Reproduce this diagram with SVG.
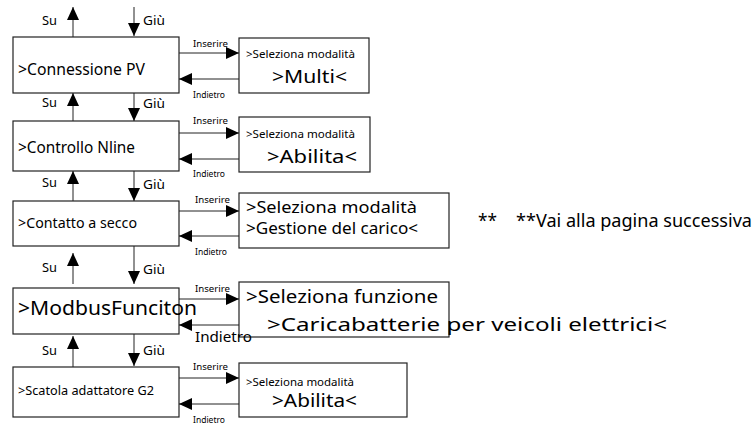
<svg xmlns="http://www.w3.org/2000/svg" width="753" height="424" viewBox="0 0 753 424">
  <defs>
    <marker id="head" viewBox="0 0 13 12" refX="13" refY="6" markerWidth="13" markerHeight="12" markerUnits="userSpaceOnUse" orient="auto">
      <path d="M0,0 L13,6 L0,12 z" fill="#000"/>
    </marker>
    <style>
      .box { fill: #fff; stroke: #222; stroke-width: 1.2; }
      .t { font-family: "Noto Sans", "Open Sans", sans-serif; fill: #000; }
      .lbl { font-family: "Noto Sans", "Open Sans", sans-serif; fill: #000; font-size: 8px; }
      .nav { font-family: "Noto Sans", "Open Sans", sans-serif; fill: #000; font-size: 12.5px; }
      .conn line { stroke: #222; stroke-width: 1; marker-end: url(#head); }
    </style>
  </defs>
  <rect width="753" height="424" fill="#fff"/>

  <!-- menu entries -->
  <g id="pv"><rect class="box" x="13" y="37" width="166" height="56"/><text class="t" x="18" y="75" font-size="15.5" textLength="127" lengthAdjust="spacingAndGlyphs">&gt;Connessione PV</text></g>
  <g id="nline"><rect class="box" x="13" y="121" width="166" height="50"/><text class="t" x="18" y="153" font-size="15.5" textLength="117" lengthAdjust="spacingAndGlyphs">&gt;Controllo Nline</text></g>
  <g id="secco"><rect class="box" x="13" y="201" width="166" height="45"/><text class="t" x="18" y="228" font-size="14.4" textLength="119" lengthAdjust="spacingAndGlyphs">&gt;Contatto a secco</text></g>
  <g id="modbus"><rect class="box" x="13" y="288" width="166" height="46"/><text class="t" x="18" y="315" font-size="19.5" textLength="179" lengthAdjust="spacingAndGlyphs">&gt;ModbusFunciton</text></g>
  <g id="g2"><rect class="box" x="13" y="367" width="166" height="50"/><text class="t" x="18" y="395" font-size="12" textLength="136" lengthAdjust="spacingAndGlyphs">&gt;Scatola adattatore G2</text></g>

  <!-- sub pages -->
  <g id="pv-mode"><rect class="box" x="239" y="38" width="130" height="55"/>
    <text class="t" x="246" y="58" font-size="10.5" textLength="109" lengthAdjust="spacingAndGlyphs">&gt;Seleziona modalità</text>
    <text class="t" x="272" y="83" font-size="17.5" textLength="75" lengthAdjust="spacingAndGlyphs">&gt;Multi&lt;</text></g>
  <g id="nline-mode"><rect class="box" x="239" y="117" width="131" height="55"/>
    <text class="t" x="246" y="138" font-size="10.5" textLength="109" lengthAdjust="spacingAndGlyphs">&gt;Seleziona modalità</text>
    <text class="t" x="267" y="163" font-size="18" textLength="90" lengthAdjust="spacingAndGlyphs">&gt;Abilita&lt;</text></g>
  <g id="secco-mode"><rect class="box" x="239" y="193" width="210" height="55"/>
    <text class="t" x="246" y="213" font-size="16.5" textLength="171" lengthAdjust="spacingAndGlyphs">&gt;Seleziona modalità</text>
    <text class="t" x="246" y="234" font-size="16" textLength="172" lengthAdjust="spacingAndGlyphs">&gt;Gestione del carico&lt;</text></g>
  <g id="modbus-func"><rect class="box" x="239" y="282" width="210" height="55"/>
    <text class="t" x="246" y="303" font-size="18.5" textLength="192" lengthAdjust="spacingAndGlyphs">&gt;Seleziona funzione</text>
    <text class="t" x="267" y="331" font-size="18.5" textLength="400" lengthAdjust="spacingAndGlyphs">&gt;Caricabatterie per veicoli elettrici&lt;</text></g>
  <g id="g2-mode"><rect class="box" x="239" y="363" width="168" height="54"/>
    <text class="t" x="246" y="386" font-size="10.5" textLength="108" lengthAdjust="spacingAndGlyphs">&gt;Seleziona modalità</text>
    <text class="t" x="272" y="407" font-size="18" textLength="85" lengthAdjust="spacingAndGlyphs">&gt;Abilita&lt;</text></g>

  <g id="note">
    <text class="t" x="478" y="227" font-size="17.5" textLength="19" lengthAdjust="spacingAndGlyphs">**</text>
    <text class="t" x="516" y="227" font-size="17.5" textLength="236" lengthAdjust="spacingAndGlyphs">**Vai alla pagina successiva</text></g>

  <!-- connectors -->
  <g class="conn">
    <line x1="73" y1="37" x2="73" y2="7"/>
    <line x1="134" y1="7" x2="134" y2="36"/>
    <line x1="73" y1="121" x2="73" y2="93"/>
    <line x1="134" y1="93" x2="134" y2="121"/>
    <line x1="73" y1="201" x2="73" y2="171"/>
    <line x1="134" y1="171" x2="134" y2="201"/>
    <line x1="73" y1="284" x2="73" y2="253"/>
    <line x1="134" y1="246" x2="134" y2="284"/>
    <line x1="73" y1="367" x2="73" y2="336"/>
    <line x1="134" y1="334" x2="134" y2="366"/>

    <line x1="179" y1="53" x2="239" y2="53"/>
    <line x1="239" y1="79" x2="179" y2="79"/>
    <line x1="179" y1="133" x2="239" y2="133"/>
    <line x1="239" y1="159" x2="179" y2="159"/>
    <line x1="179" y1="211" x2="239" y2="211"/>
    <line x1="239" y1="236" x2="179" y2="236"/>
    <line x1="179" y1="299" x2="239" y2="299"/>
    <line x1="239" y1="325" x2="179" y2="325"/>
    <line x1="179" y1="378" x2="239" y2="378"/>
    <line x1="239" y1="404" x2="179" y2="404"/>
  </g>

  <!-- connector labels -->
  <g id="nav-labels">
    <text class="nav" x="42" y="25" textLength="15" lengthAdjust="spacingAndGlyphs">Su</text><text class="nav" x="143" y="25" textLength="22" lengthAdjust="spacingAndGlyphs">Giù</text>
    <text class="nav" x="42" y="107" textLength="15" lengthAdjust="spacingAndGlyphs">Su</text><text class="nav" x="143" y="108" textLength="22" lengthAdjust="spacingAndGlyphs">Giù</text>
    <text class="nav" x="42" y="187" textLength="15" lengthAdjust="spacingAndGlyphs">Su</text><text class="nav" x="143" y="189" textLength="22" lengthAdjust="spacingAndGlyphs">Giù</text>
    <text class="nav" x="42" y="272" textLength="15" lengthAdjust="spacingAndGlyphs">Su</text><text class="nav" x="143" y="274" textLength="22" lengthAdjust="spacingAndGlyphs">Giù</text>
    <text class="nav" x="42" y="355" textLength="15" lengthAdjust="spacingAndGlyphs">Su</text><text class="nav" x="143" y="355" textLength="22" lengthAdjust="spacingAndGlyphs">Giù</text>

    <text class="lbl" x="193" y="47" textLength="35" lengthAdjust="spacingAndGlyphs">Inserire</text><text class="lbl" x="193" y="98" textLength="32" lengthAdjust="spacingAndGlyphs">Indietro</text>
    <text class="lbl" x="193" y="124" textLength="35" lengthAdjust="spacingAndGlyphs">Inserire</text><text class="lbl" x="193" y="177" textLength="32" lengthAdjust="spacingAndGlyphs">Indietro</text>
    <text class="lbl" x="195" y="203" textLength="35" lengthAdjust="spacingAndGlyphs">Inserire</text><text class="lbl" x="195" y="255" textLength="32" lengthAdjust="spacingAndGlyphs">Indietro</text>
    <text class="lbl" x="195" y="292" textLength="35" lengthAdjust="spacingAndGlyphs">Inserire</text><text class="t" x="195" y="342" font-size="15" textLength="57" lengthAdjust="spacingAndGlyphs">Indietro</text>
    <text class="lbl" x="193" y="370" textLength="35" lengthAdjust="spacingAndGlyphs">Inserire</text><text class="lbl" x="193" y="423" textLength="32" lengthAdjust="spacingAndGlyphs">Indietro</text>
  </g>
</svg>
